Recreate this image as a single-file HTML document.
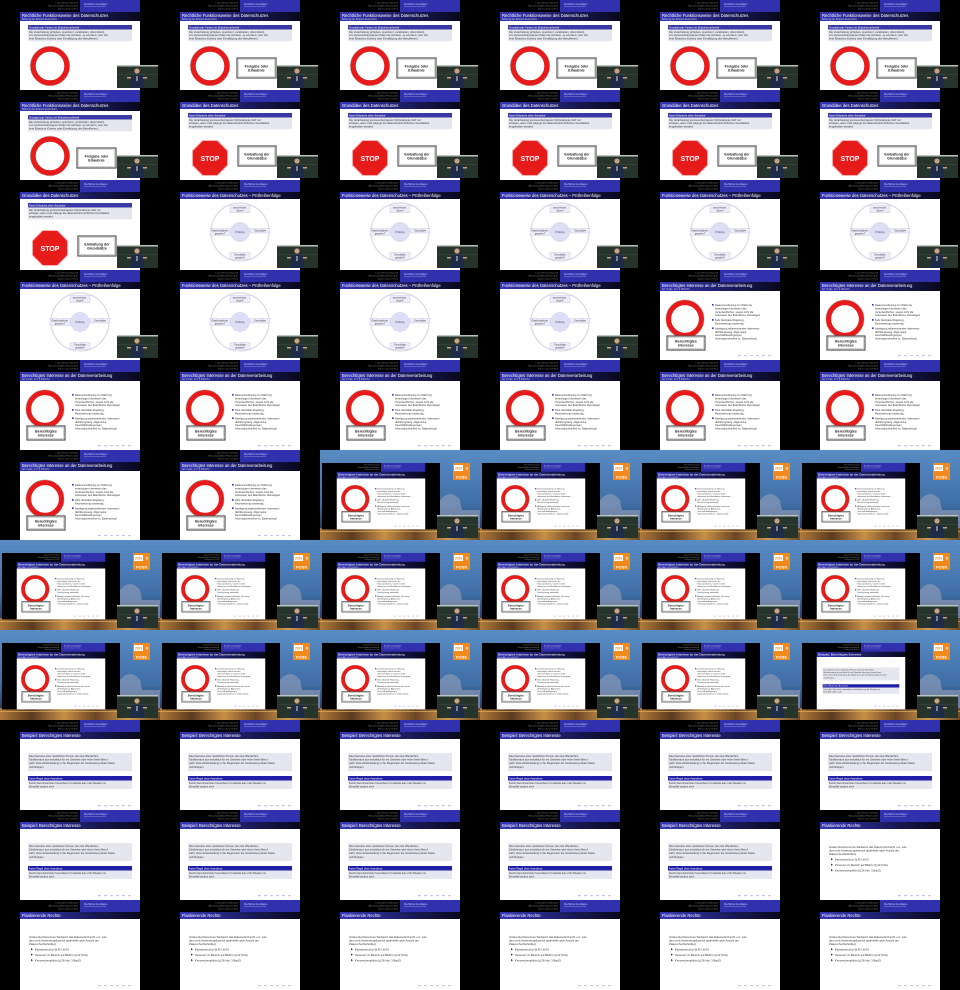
<!DOCTYPE html>
<html><head><meta charset="utf-8">
<style>
html,body{margin:0;padding:0;background:#000;width:960px;height:990px;overflow:hidden}
#grid{position:relative;width:960px;height:990px}
.tile{position:absolute;width:160px;height:90px}
svg text{font-family:"Liberation Sans","DejaVu Sans",sans-serif}
</style></head><body>
<svg width="0" height="0" style="position:absolute">
<defs>
<linearGradient id="tg" x1="0" x2="1" y1="0" y2="0"><stop offset="0" stop-color="#3636b8"/><stop offset="0.6" stop-color="#1a1a5a"/><stop offset="1" stop-color="#08081c"/></linearGradient>
<linearGradient id="sky" x1="0" x2="0" y1="0" y2="1"><stop offset="0" stop-color="#5a8cc4"/><stop offset="0.6" stop-color="#3f6fa6"/><stop offset="0.85" stop-color="#2c3f66"/><stop offset="1" stop-color="#3a2a1a"/></linearGradient>
<linearGradient id="lights" x1="0" x2="1" y1="0" y2="0"><stop offset="0" stop-color="#b07a3a"/><stop offset="0.2" stop-color="#5a3a20"/><stop offset="0.4" stop-color="#c89048"/><stop offset="0.6" stop-color="#6a4424"/><stop offset="0.8" stop-color="#d09a50"/><stop offset="1" stop-color="#6a4a2a"/></linearGradient>
</defs></svg>
<div id="grid"></div>
<script>
const rows = [
 ["A0","A","A","A","A","A"],
 ["A","B","B","B","B","B"],
 ["B","C","C","C","C","C"],
 ["C","C","C","C","D","D"],
 ["D","D","D","D","D","D"],
 ["D","D","E","E","E","E"],
 ["E","E","E","E","E","E"],
 ["E","E","E","E","E","F"],
 ["G","G","G","G","G","G"],
 ["G","G","G","G","G","H"],
 ["H","H","H","H","H","H"]
];
const titles = {A:"Rechtliche Funktionsweise des Datenschutzes",B:"Grundidee des Datenschutzes",C:"Funktionsweise des Datenschutzes – Prüfreihenfolge",D:"Berechtigtes Interesse an der Datenverarbeitung",G:"Beispiel: Berechtigtes Interesse",H:"Flankierende Rechte"};

function header(){
 return `<rect x="0" y="0" width="160" height="90" fill="#000"/>
 <text x="78" y="3.5" font-size="2.2" fill="#888" text-anchor="end">Lehrstuhl für Informatik</text>
 <text x="78" y="6.5" font-size="2.2" fill="#999" text-anchor="end">Wissenschaftliche Hochschule</text>
 <text x="78" y="9.5" font-size="2.2" fill="#888" text-anchor="end">Datenschutz im Netz</text>
 <rect x="80" y="0" width="60" height="12" fill="#3131b0"/>
 <text x="84" y="5" font-size="2.3" fill="#c8c8f0">Rechtliche Grundlagen</text>
 <rect x="84" y="6.5" width="22" height="0.5" fill="#9090d0"/>`;
}
function title(t,sub){
 const h = sub?9:7;
 let s = `<rect x="20" y="12" width="120" height="${h}" fill="url(#tg)"/>
 <text x="22" y="17" font-size="4.2" fill="#fff">${t}</text>`;
 if(sub) s += `<text x="22" y="20.2" font-size="2.4" fill="#ccd">${sub}</text>`;
 s += `<rect x="20" y="${12+h}" width="120" height="${90-12-h}" fill="#fff"/>`;
 return s;
}
function nav(){
 let s="";
 for(let i=0;i<6;i++) s+=`<rect x="${98+i*6}" y="85" width="3" height="1.2" fill="#c8c8e0"/>`;
 return s;
}
function block(y,head,lines){
 let s = `<rect x="28" y="${y}" width="104" height="4.5" fill="#3a3aa6" rx="0.6"/>
 <text x="29" y="${y+3.3}" font-size="2.6" fill="#fff">${head}</text>
 <rect x="28" y="${y+4.5}" width="104" height="${lines.length*3.3+2}" fill="#e6e6f0"/>`;
 lines.forEach((l,i)=>{s+=`<text x="29" y="${y+7.8+i*3.3}" font-size="2.7" fill="#333">${l}</text>`;});
 return s;
}
function ring(cx,cy,r){
 return `<circle cx="${cx}" cy="${cy}" r="${r}" fill="#fff" stroke="#e81b1b" stroke-width="${r*0.32}"/>
 <circle cx="${cx}" cy="${cy}" r="${r*1.17}" fill="none" stroke="#a8d8d8" stroke-width="0.6"/>`;
}
function box(x,y,w,h,l1,l2){
 return `<rect x="${x}" y="${y}" width="${w}" height="${h}" fill="#fff" stroke="#555" stroke-width="1.2"/>
 <rect x="${x+1.5}" y="${y+1.5}" width="${w-3}" height="${h-3}" fill="none" stroke="#999" stroke-width="0.4"/>
 <text x="${x+w/2}" y="${y+h/2-0.5}" font-size="3.6" font-weight="bold" fill="#222" text-anchor="middle">${l1}</text>
 <text x="${x+w/2}" y="${y+h/2+3.6}" font-size="3.6" font-weight="bold" fill="#222" text-anchor="middle">${l2}</text>`;
}
function webcam(){
 return `<g>
 <rect x="117" y="65" width="41" height="23" fill="#26342c"/>
 <rect x="117" y="65" width="41" height="1.5" fill="#b8c4bc"/>
 <rect x="117" y="74" width="41" height="0.5" fill="#3c5046"/>
 <circle cx="137" cy="71" r="2.6" fill="#c8a088"/>
 <path d="M130,88 L131,76 Q137,73 143,76 L144,88 Z" fill="#1e2a48"/>
 <rect x="136.5" y="76" width="1" height="5" fill="#ddd"/>
 <rect x="127" y="77" width="4" height="1.5" fill="#c8a088"/>
 <rect x="143" y="77" width="4" height="1.5" fill="#c8a088"/></g>`;
}
function slide(type){
 let s = header();
 if(type==="A"||type==="A0"){
  s += title(titles.A,"Wirkung des Erlaubnisvorbehalts");
  s += block(25,"Grundprinzip: Verbot mit Erlaubnisvorbehalt",["Die Verarbeitung (erheben, speichern, verarbeiten, übermitteln)","von personenbezogenen Daten ist verboten, es sei denn, man hat","eine Erlaubnis (Gesetz oder Einwilligung des Betroffenen)."]);
  s += ring(50,66,17);
  if(type==="A") s += box(77,58,39,20,"Freigabe oder","Erlaubnis");
 } else if(type==="B"){
  s += title(titles.B,"");
  s += block(23,"Keine Erlaubnis ohne Schranke",["Die Verarbeitung personenbezogener Informationen darf nur","erfolgen, wenn und solange die datenschutzrechtlichen Grundsätze","eingehalten werden!"]);
  let pts=[];for(let i=0;i<8;i++){const a=Math.PI/8+i*Math.PI/4;pts.push((50+19*Math.cos(a)).toFixed(2)+","+(68+19*Math.sin(a)).toFixed(2));}
  s += `<polygon points="${pts.join(" ")}" fill="#e81b1b" stroke="#f8b0b0" stroke-width="1"/>
  <text x="50" y="71" font-size="7" font-weight="bold" fill="#fff" text-anchor="middle">STOP</text>`;
  s += box(78,56,38,20,"Einhaltung der","Grundsätze");
 } else if(type==="C"){
  s += title(titles.C,"");
  s += `<circle cx="80" cy="52" r="29" fill="none" stroke="#d8d8e4" stroke-width="1.2"/>
  <circle cx="80" cy="52" r="9.5" fill="#dedef6" stroke="#c8c8ea" stroke-width="0.5"/>
  <text x="80" y="53" font-size="2.6" fill="#444" text-anchor="middle">Prüfung</text>`;
  const labs=[[80,29,"personenbez.","Daten?"],[60,52,"Erlaubnistatbest.","gegeben?"],[100,52,"Grundsätze",""],[80,76,"Grundsätze","gewahrt?"]];
  labs.forEach(l=>{s+=`<rect x="${l[0]-10}" y="${l[1]-3.5}" width="20" height="${l[3]?7:4.5}" fill="#ececfa" stroke="#c0c0e0" stroke-width="0.4"/>
  <text x="${l[0]}" y="${l[1]-0.6}" font-size="2.3" fill="#444" text-anchor="middle">${l[2]}</text>
  <text x="${l[0]}" y="${l[1]+2.4}" font-size="2.3" fill="#444" text-anchor="middle">${l[3]}</text>`;});
 } else if(type==="D"){
  s += title(titles.D,"Art. 6 Abs. 1 lit. f) DSGVO");
  s += ring(45,49,16.5);
  s += box(27,66,38,14,"Berechtigtes","Interesse");
  const bl=[["Datenverarbeitung zur Wahrung",0],["berechtigter Interessen des",1],["Verantwortlichen, soweit nicht die",1],["Interessen des Betroffenen überwiegen",1],["Sehr abstrakte Regelung,",0],["Rechtsetzung notwendig",1],["Abwägung widerstreitender Interessen",0],["(Erfüllungsweg, Allgemeine",1],["Geschäftsbedingungen,",1],["Informationsfreiheit vs. Datenschutz)",1]];
  let y=36;
  bl.forEach((b,i)=>{ if(!b[1]&&i>0) y+=1.5; if(!b[1]) s+=`<rect x="72" y="${y-2}" width="1.6" height="1.6" fill="#3030b0"/>`;
   s+=`<text x="75" y="${y}" font-size="2.6" fill="#333">${b[0]}</text>`; y+=3.4;});
  s += nav();
 } else if(type==="G"){
  s += title(titles.G,"");
  s += `<rect x="28" y="33" width="104" height="18" fill="#e6e6f0" rx="0.8"/>`;
  ["Das Interesse einer natürlichen Person, die eine öffentlichen","Straßenraum aus ersichtlich für ein Gewerbe oder einen freien Beruf","wirbt, deren Entscheidung in der Regel kann die Verarbeitung dieser Daten","rechtfertigen."].forEach((l,i)=>{s+=`<text x="29" y="${37+i*3.6}" font-size="2.6" fill="#333">${l}</text>`;});
  s += `<rect x="28" y="56" width="104" height="4.5" fill="#1e1ea6" rx="0.6"/>
  <text x="29" y="59.3" font-size="2.6" fill="#fff">Keine Regel ohne Ausnahme</text>
  <rect x="28" y="60.5" width="104" height="8.5" fill="#e6e6f0"/>
  <text x="29" y="63.8" font-size="2.6" fill="#333">Durch das Hinzutreten besonderer Umstände kann die Situation im</text>
  <text x="29" y="67.4" font-size="2.6" fill="#333">Einzelfall anders sein!</text>`;
  s += nav();
 } else if(type==="H"){
  s += title(titles.H,"");
  ["Andere Rechtsnormen flankieren das Datenschutzrecht, um, weil","dies nicht Anwendungsbereich (jedenfalls nach Ansicht der","Datenschutzbehörden)."].forEach((l,i)=>{s+=`<text x="29" y="${38+i*3.5}" font-size="2.7" fill="#333">${l}</text>`;});
  ["Passwortschutz (§ 95 UrhG)","Personen im Bereich auf Bildern (§ 22 KUG)","Kennzeichenpflicht (§ 26 Abs. 3 BauO)"].forEach((l,i)=>{
   s+=`<polygon points="${31},${48+i*5.5} ${33},${49.2+i*5.5} ${31},${50.4+i*5.5}" fill="#3030b0"/><text x="35" y="${50.5+i*5.5}" font-size="2.7" fill="#333">${l}</text>`;});
  s += nav();
 }
 return s;
}
function stage(inner){
 return `<rect x="0" y="0" width="160" height="90" fill="url(#sky)"/>
 <path d="M120,78 L120,50 Q130,38 140,50 L142,60 L160,60 L160,78 Z" fill="#8a9ab8" opacity="0.7"/>
 <rect x="0" y="78" width="160" height="12" fill="url(#lights)"/>
 <rect x="0" y="81" width="160" height="1" fill="#e0b060" opacity="0.7"/>
 <g transform="translate(2,13) scale(0.7375)">${slide(inner)}</g>
 <g><rect x="133" y="13" width="17" height="17" fill="#f08a1c"/>
 <rect x="134" y="15" width="9" height="6" fill="#fff"/><text x="138.5" y="19.6" font-size="3.2" font-weight="bold" fill="#f08a1c" text-anchor="middle">2019</text>
 <text x="147" y="19.5" font-size="3.5" font-weight="bold" fill="#fff" text-anchor="middle">G</text>
 <text x="141.5" y="28.5" font-size="4" font-weight="bold" fill="#fff" text-anchor="middle">FOSS</text></g>`;
}
const grid = document.getElementById('grid');
rows.forEach((row,r)=>{
 row.forEach((t,c)=>{
  const d = document.createElement('div');
  d.className='tile';
  d.style.left=(c*160)+'px'; d.style.top=(r*90)+'px';
  
  
  let body;
  if(t==="E") body = stage("D")+webcam();
  else if(t==="F") body = stage("G")+webcam();
  else { body = slide(t); if(t==="A"||t==="A0"||t==="B"||t==="C") body += webcam(); }
  d.innerHTML = `<svg width="160" height="90" viewBox="0 0 160 90" xmlns="http://www.w3.org/2000/svg">${body}</svg>`;
  grid.appendChild(d);
 });
});
</script>
</body></html>
